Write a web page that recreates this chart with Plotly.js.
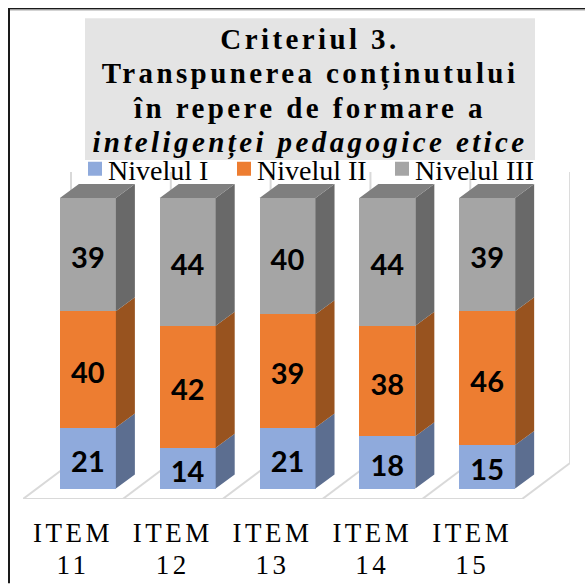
<!DOCTYPE html>
<html>
<head>
<meta charset="utf-8">
<script src="https://cdn.plot.ly/plotly-3.0.1.min.js"></script>
<style>
html,body{margin:0;padding:0;background:#fff;overflow:hidden}
.gtitle{letter-spacing:3.4px}
.xtick text{letter-spacing:3.5px}
</style>
</head>
<body>
<div id="chart" style="width:585px;height:584px"></div>
<script>
const categories = ["ITEM<br>11","ITEM<br>12","ITEM<br>13","ITEM<br>14","ITEM<br>15"];
const nivelulI   = [21,14,21,18,15];
const nivelulII  = [40,42,39,38,46];
const nivelulIII = [39,44,40,44,39];
const seriesNames = ["Nivelul I","Nivelul II","Nivelul III"];
const frontColors = ["#8FAADC","#ED7D31","#A5A5A5"];
const sideColors  = ["#5C6E90","#98531F","#696969"];
const topColor = "#7F7F7F";

const W=585,H=584,L=23,R=570,T=172,B=499.5;
const unitX=(R-L)/5.48, unitY=2.91;
const xRange=[-0.5,4.98], yRange=[-(B-489)/unitY,(489-T)/unitY];
const positions=categories.map((_,i)=>i);
const barShift=0.15, barWidth=0.561;
const depthX=19/unitX, depthY=14/unitY;
const floorX=48/unitX, floorY=36/unitY;
const series=[nivelulI,nivelulII,nivelulIII];

const traces=[];
series.forEach((vals,s)=>{
  traces.push({type:"bar",name:seriesNames[s],x:positions.map(p=>p+barShift),y:vals,width:barWidth,
    marker:{color:frontColors[s],line:{width:0}},text:vals.map(String),textposition:"inside",
    insidetextanchor:"middle",textangle:0,constraintext:"none",cliponaxis:false,
    textfont:{family:"Lato, sans-serif",size:29,color:"#000",weight:700},hoverinfo:"name+y"});
});
series.forEach((vals,s)=>{
  const xs=[],ys=[];
  vals.forEach((v,i)=>{
    let base=0; for(let k=0;k<s;k++) base+=series[k][i];
    const x0=positions[i]+barShift+barWidth/2;
    xs.push(x0,x0+depthX,x0+depthX,x0,x0,null);
    ys.push(base,base+depthY,base+v+depthY,base+v,base,null);
  });
  traces.push({type:"scatter",mode:"lines",x:xs,y:ys,fill:"toself",fillcolor:sideColors[s],
    line:{width:0,color:sideColors[s]},showlegend:false,hoverinfo:"skip"});
});
(function(){
  const xs=[],ys=[];
  positions.forEach((p,i)=>{
    const total=series.reduce((a,v)=>a+v[i],0), x0=p+barShift-barWidth/2, x1=x0+barWidth;
    xs.push(x0,x1,x1+depthX,x0+depthX,x0,null);
    ys.push(total,total,total+depthY,total+depthY,total,null);
  });
  traces.push({type:"scatter",mode:"lines",x:xs,y:ys,fill:"toself",fillcolor:topColor,
    line:{width:0,color:topColor},showlegend:false,hoverinfo:"skip"});
})();

const gridColor="#D9D9D9";
const gl=(x0,y0,x1,y1)=>({type:"line",xref:"x",yref:"y",x0,y0,x1,y1,layer:"below",line:{color:gridColor,width:2}});
const shapes=[];
const fy=yRange[0];
shapes.push(gl(xRange[0],fy,4.5,fy));
for(let i=0;i<=5;i++){
  const xf=i-0.5;
  shapes.push(gl(xf,fy,xf+floorX,fy+floorY));
  shapes.push(gl(xf+floorX,fy+floorY,xf+floorX,yRange[1]));
}
const pX=p=>(p-L)/(R-L), pY=p=>(B-p)/(B-T);
shapes.push({type:"rect",xref:"paper",yref:"paper",x0:pX(85),x1:pX(535),y0:pY(160),y1:pY(18),layer:"below",fillcolor:"#E4E4E4",line:{width:0}});
shapes.push({type:"line",xref:"paper",yref:"paper",x0:pX(9),x1:pX(9),y0:pY(584),y1:pY(8),line:{color:"#1a1a1a",width:2}});
shapes.push({type:"line",xref:"paper",yref:"paper",x0:pX(8),x1:pX(585),y0:pY(8.5),y1:pY(8.5),line:{color:"#1a1a1a",width:1.5}});
shapes.push({type:"line",xref:"paper",yref:"paper",x0:pX(10),x1:pX(585),y0:pY(9.8),y1:pY(9.8),line:{color:"#b0b0b0",width:1}});

const layout={
  width:W,height:H,autosize:false,paper_bgcolor:"#fff",plot_bgcolor:"rgba(0,0,0,0)",
  margin:{l:L,r:W-R,t:T,b:H-B,pad:0},barmode:"stack",bargap:0,
  font:{family:"'Liberation Serif', serif",color:"#000"},
  title:{text:"<b>Criteriul 3.<br>Transpunerea conținutului<br>în repere de formare a<br><i>inteligenței pedagogice etice</i></b>",
    font:{family:"'Liberation Serif', serif",size:29,color:"#000"},x:310/W,xanchor:"center",xref:"container",y:1-48.5/H,yanchor:"top",automargin:false},
  xaxis:{range:xRange,type:"linear",tickvals:positions,ticktext:categories,ticks:"outside",ticklen:10,tickcolor:"rgba(0,0,0,0)",
    showgrid:false,zeroline:false,showline:false,tickangle:0,tickfont:{family:"'Liberation Serif', serif",size:27,color:"#000"}},
  yaxis:{range:yRange,visible:false,showgrid:false,zeroline:false},
  shapes,
  legend:{orientation:"h",x:pX(74),xanchor:"left",y:pY(144),yanchor:"top",bgcolor:"rgba(0,0,0,0)",font:{family:"'Liberation Serif', serif",size:28,color:"#000"},traceorder:"normal",itemclick:false,itemdoubleclick:false},
  showlegend:true
};
const legendTextLeft=[108,257,415];
Plotly.newPlot("chart",traces,layout,{displayModeBar:false,staticPlot:true}).then(()=>{
  document.querySelectorAll(".gtitle tspan.line").forEach((t,i)=>t.setAttribute("dy",i*34.5+"px"));
  document.querySelectorAll(".xtick text").forEach(tx=>{
    tx.querySelectorAll("tspan.line").forEach((t,i)=>t.setAttribute("dy",i*32+"px"));
  });
  document.querySelectorAll(".bartext").forEach(t=>{
    t.setAttribute("transform","translate(0,2) "+(t.getAttribute("transform")||""));
  });
  document.querySelectorAll(".legend .scrollbox").forEach(s=>s.removeAttribute("clip-path"));
  document.querySelectorAll(".legend .traces").forEach((g,i)=>{
    const tx=g.querySelector(".legendtext");
    const delta=legendTextLeft[i]-tx.getBoundingClientRect().left;
    const m=/translate\(([-\d.]+)[ ,]*([-\d.]*)\)/.exec(g.getAttribute("transform"));
    g.setAttribute("transform","translate("+(parseFloat(m[1])+delta)+","+(parseFloat(m[2])||0)+")");
    const lp=g.querySelector(".legendpoints");
    lp.setAttribute("transform","translate(7,0)");
    g.querySelectorAll(".legendpoints path").forEach(p=>{
      if(p.getAttribute("d")&&p.getAttribute("d").indexOf("M6,6")===0) p.setAttribute("d","M7,7H-7V-7H7Z");
    });
  });
});
</script>
</body>
</html>
